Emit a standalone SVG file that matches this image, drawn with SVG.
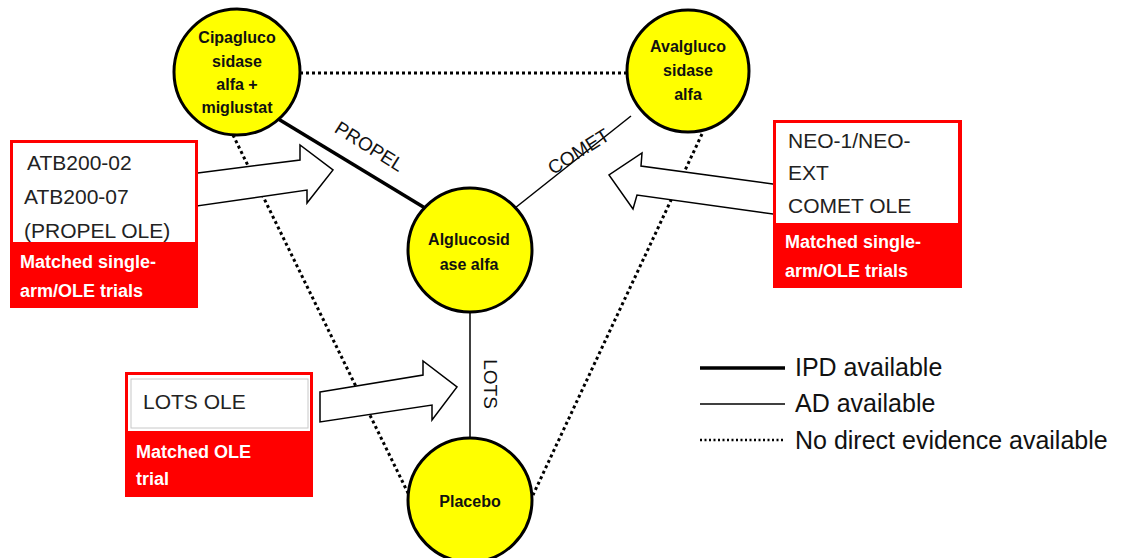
<svg xmlns="http://www.w3.org/2000/svg" width="1124" height="558" viewBox="0 0 1124 558">
<style>
.node circle{fill:#FFFF00;stroke:#000;stroke-width:3}
.nt{font-family:"Liberation Sans",Arial,sans-serif;font-weight:bold;font-size:16px;fill:#111;text-anchor:middle}
.bt{font-family:"Liberation Sans",Arial,sans-serif;font-size:21px;fill:#222}
.rt{font-family:"Liberation Sans",Arial,sans-serif;font-weight:bold;font-size:18px;fill:#fff}
.el{font-family:"Liberation Sans",Arial,sans-serif;font-size:19px;fill:#111;text-anchor:middle}
.lg{font-family:"Liberation Sans",Arial,sans-serif;font-size:25px;fill:#111}
.ipd{stroke:#000;stroke-width:3.5;fill:none}
.ad{stroke:#000;stroke-width:1.5;fill:none}
.nd{stroke:#000;stroke-width:3;stroke-dasharray:3 3;fill:none}
.arr{fill:#fff;stroke:#000;stroke-width:1.5;stroke-linejoin:miter}
</style>
<rect width="1124" height="558" fill="#fff"/>
<g id="connectors">
<line class="nd" x1="300" y1="73" x2="627" y2="73"/>
<line class="nd" x1="233" y1="135" x2="409" y2="495"/>
<line class="nd" x1="702" y1="134" x2="533" y2="495"/>
<line class="ipd" x1="275" y1="117" x2="425" y2="208"/>
<line class="ad" x1="515" y1="208" x2="631" y2="116"/>
<line class="ad" x1="470" y1="312" x2="470" y2="438"/>
<text class="el" transform="translate(366,152) rotate(32)">PROPEL</text>
<text class="el" transform="translate(582,157) rotate(-32)">COMET</text>
<text class="el" font-size="18" transform="translate(484,384) rotate(90)">LOTS</text>
</g>
<g id="arrows">
<polygon class="arr" points="190,174 300,160 300,145 333,170 307,203 307,190 190,207"/>
<polygon class="arr" points="780,185 641,166 642,153 609,175 633,209 637,195 780,215"/>
<polygon class="arr" points="320,392 423,375 423,361 457,387 432,420 432,405 320,422"/>
</g>
<g id="node-cipa" class="node">
<circle cx="237" cy="72" r="63"/>
<text class="nt" x="237" y="43">Cipagluco</text>
<text class="nt" x="237" y="67">sidase</text>
<text class="nt" x="237" y="90">alfa +</text>
<text class="nt" x="237" y="113">miglustat</text>
</g>
<g id="node-avalg" class="node">
<circle cx="688" cy="71" r="61"/>
<text class="nt" x="688" y="52">Avalgluco</text>
<text class="nt" x="688" y="76">sidase</text>
<text class="nt" x="688" y="100">alfa</text>
</g>
<g id="node-alg" class="node">
<circle cx="470" cy="250" r="62"/>
<text class="nt" x="469" y="245">Alglucosid</text>
<text class="nt" x="469" y="270">ase alfa</text>
</g>
<g id="node-placebo" class="node">
<circle cx="470" cy="500" r="62"/>
<text class="nt" x="470" y="507">Placebo</text>
</g>
<g id="box-propel">
<rect x="10" y="140" width="188" height="168" fill="#FF0000"/>
<rect x="13" y="143" width="182" height="99" fill="#fff"/>
<text class="bt" x="27" y="170">ATB200-02</text>
<text class="bt" x="24" y="204">ATB200-07</text>
<text class="bt" x="24" y="238">(PROPEL OLE)</text>
<text class="rt" x="20" y="268">Matched single-</text>
<text class="rt" x="20" y="297">arm/OLE trials</text>
</g>
<g id="box-comet">
<rect x="773" y="120" width="189" height="168" fill="#FF0000"/>
<rect x="776" y="123" width="182" height="100" fill="#fff"/>
<text class="bt" x="788" y="148">NEO-1/NEO-</text>
<text class="bt" x="788" y="180">EXT</text>
<text class="bt" x="788" y="213">COMET OLE</text>
<text class="rt" x="785" y="248">Matched single-</text>
<text class="rt" x="785" y="277">arm/OLE trials</text>
</g>
<g id="box-lots">
<rect x="125" y="372" width="188" height="125" fill="#FF0000"/>
<rect x="128" y="375" width="182" height="56" fill="#fff"/>
<rect x="131" y="379" width="177" height="49" fill="none" stroke="#c8c8c8" stroke-width="1"/>
<text class="bt" x="143" y="409">LOTS OLE</text>
<text class="rt" x="136" y="458">Matched OLE</text>
<text class="rt" x="136" y="485">trial</text>
</g>
<g id="legend">
<line class="ipd" x1="700" y1="368" x2="785" y2="368"/>
<text class="lg" x="795" y="376">IPD available</text>
<line class="ad" x1="700" y1="404" x2="785" y2="404"/>
<text class="lg" x="795" y="412">AD available</text>
<line stroke="#000" stroke-width="2.5" stroke-dasharray="2 2.5" x1="700" y1="440" x2="785" y2="440"/>
<text class="lg" x="795" y="449">No direct evidence available</text>
</g>
</svg>
